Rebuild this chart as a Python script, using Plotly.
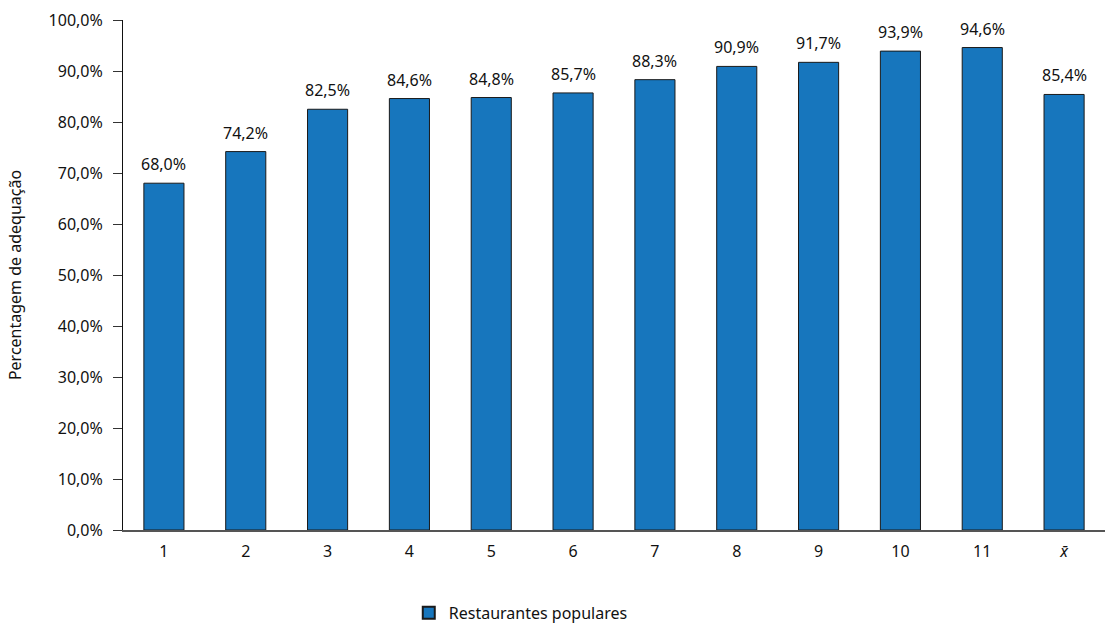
import plotly.graph_objects as go

categories = ["1", "2", "3", "4", "5", "6", "7", "8", "9", "10", "11", "<i>x̄</i>"]
values = [68.0, 74.2, 82.5, 84.6, 84.8, 85.7, 88.3, 90.9, 91.7, 93.9, 94.6, 85.4]
series_name = "Restaurantes populares"
y_title = "Percentagem de adequação"

FONT = "Noto Sans"

fig = go.Figure()
fig.add_trace(go.Bar(
    x=categories, y=values, name=series_name,
    marker=dict(color="#1776bd", line=dict(color="#1a1a1a", width=1)),
    showlegend=True,
))

for i, v in enumerate(values):
    fig.add_annotation(
        x=i, y=v, xref="x", yref="y",
        text=f"{v:.1f}%".replace(".", ","),
        showarrow=False, yanchor="bottom", yshift=6,
        font=dict(family=FONT, size=16, color="#111"),
    )

fig.update_layout(
    width=1105, height=626,
    margin=dict(l=123, r=0, t=20, b=96),
    paper_bgcolor="white", plot_bgcolor="white",
    separators=",.",
    font=dict(family=FONT, size=16, color="#111"),
    bargap=0.51,
    showlegend=True,
    legend=dict(orientation="h", x=0.291, xanchor="left",
                yref="container", y=0.021, yanchor="middle",
                font=dict(size=16), itemsizing="constant"),
    xaxis=dict(type="category", showline=True, linecolor="#555", linewidth=1.5,
               ticks="", showgrid=False, tickfont=dict(size=16), ticklabelstandoff=6),
    yaxis=dict(range=[0, 100], dtick=10, tickformat=".1f", ticksuffix="%",
               showline=True, linecolor="#111", linewidth=1, ticks="outside",
               ticklen=9, tickcolor="#333", showgrid=False, zeroline=False,
               ticklabelstandoff=7,
               title=dict(text=y_title, font=dict(size=16), standoff=22),
               tickfont=dict(size=16)),
)

fig.write_html("out.html")
